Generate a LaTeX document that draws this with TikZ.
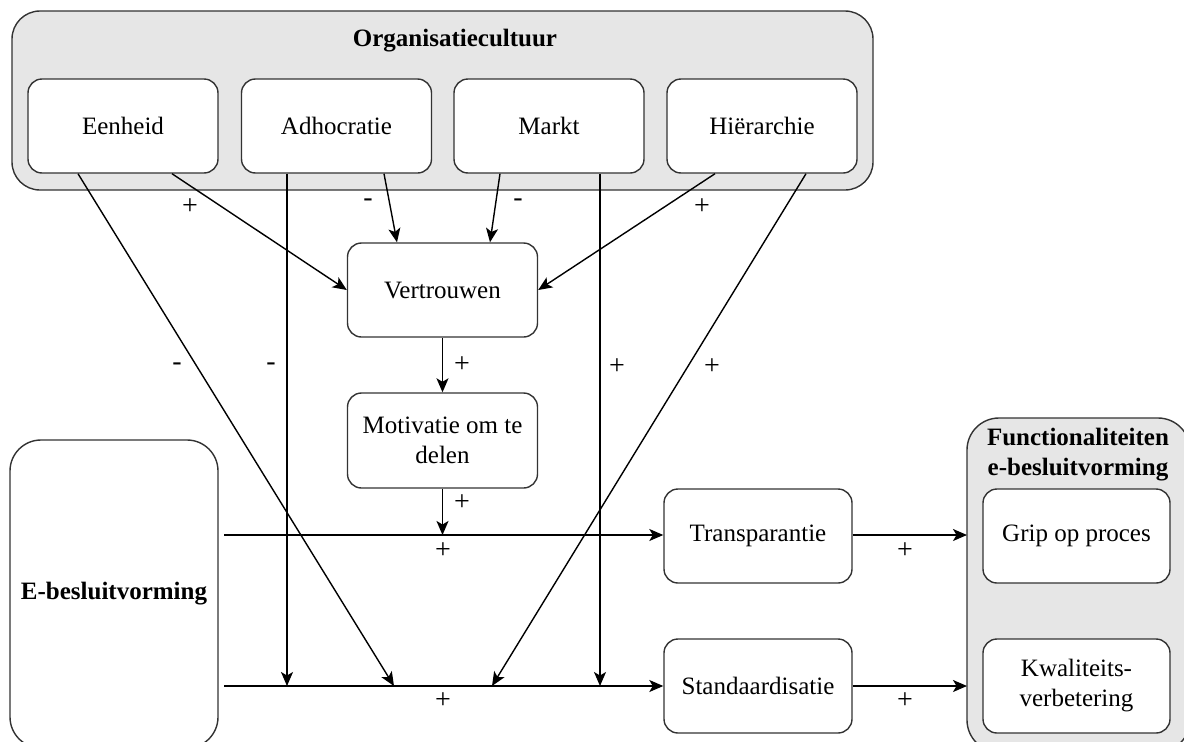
\documentclass[tikz,border=0pt]{standalone}
\usepackage{fontspec}
\setmainfont{Liberation Serif}
\usetikzlibrary{arrows.meta}
\definecolor{groupfill}{HTML}{E6E6E6}
\definecolor{edgecol}{HTML}{333333}

\begin{document}
\begin{tikzpicture}[x=1pt,y=-1pt,
  font=\fontsize{25}{30}\selectfont,
  group/.style={draw=edgecol, fill=groupfill, line width=1.4pt, inner sep=0pt},
  box/.style={draw=edgecol, fill=white, line width=1.4pt, rounded corners=14pt,
    minimum width=190pt, minimum height=94pt, align=center, inner sep=0pt},
  title/.style={font=\fontsize{25}{30}\selectfont\bfseries, align=center, inner sep=0pt},
  arr/.style={-{Stealth[length=14pt,width=12pt,inset=3.5pt]}, line width=1.4pt},
  sign/.style={inner sep=0pt, font=\fontsize{28}{30}\selectfont}
]
\useasboundingbox (0,0) rectangle (1184,742);

% group: organisational culture
\node[group, rounded corners=28pt, minimum width=861pt, minimum height=179pt] (org) at (442.5,100.5) {};
\node[title] (orgtitle) at (455,41) {Organisatiecultuur};
\node[box] (eenheid) at (123,126) {Eenheid};
\node[box] (adhocratie) at (336.5,126) {Adhocratie};
\node[box] (markt) at (549,126) {Markt};
\node[box] (hierarchie) at (762,126) {Hiërarchie};

% mediating chain
\node[box] (vertrouwen) at (442.5,290) {Vertrouwen};
\node[box, minimum height=95pt] (motivatie) at (442.5,440.5) {Motivatie om te\\delen};

% e-decision making
\node[box, rounded corners=31pt, minimum width=208pt, minimum height=308pt, font=\fontsize{25}{30}\selectfont\bfseries] (ebesluit) at (114,594) {E-besluitvorming};

\node[box, minimum width=188pt] (transparantie) at (758,536) {Transparantie};
\node[box, minimum width=188pt] (standaardisatie) at (758,686) {Standaardisatie};

% group: functionalities
\node[group, rounded corners=32pt, minimum width=223pt, minimum height=334pt] (func) at (1078.5,585) {};
\node[title] (functitle) at (1078,455) {Functionaliteiten\\e-besluitvorming};
\node[box, minimum width=187pt] (grip) at (1076.5,536) {Grip op proces};
\node[box, minimum width=187pt] (kwal) at (1076.5,686) {Kwaliteits-\\verbetering};

% free ends of the two main lines
\coordinate (tstart) at (224,535);
\coordinate (sstart) at (224,686);
\coordinate (tmot) at (442.5,535);
\coordinate (sadh) at (287,686);
\coordinate (seen) at (394,686);
\coordinate (shie) at (492,686);
\coordinate (smar) at (600,686);
\coordinate (gripin) at (967,535);
\coordinate (kwalin) at (967,686);

% culture -> trust
\draw[arr] ([xshift=49pt]eenheid.south) -- (vertrouwen.west);
\draw[arr] ([xshift=47.5pt]adhocratie.south) -- ([xshift=-45.5pt]vertrouwen.north);
\draw[arr] ([xshift=-49pt]markt.south) -- ([xshift=47.5pt]vertrouwen.north);
\draw[arr] ([xshift=-47pt]hierarchie.south) -- (vertrouwen.east);

% trust -> motivation -> transparency line
\draw[arr] (vertrouwen.south) -- (motivatie.north);
\draw[arr] (motivatie.south) -- (tmot);

% culture -> standardisation line
\draw[arr] ([xshift=-45pt]eenheid.south) -- (seen);
\draw[arr] ([xshift=-49.5pt]adhocratie.south) -- (sadh);
\draw[arr] ([xshift=51pt]markt.south) -- (smar);
\draw[arr] ([xshift=44pt]hierarchie.south) -- (shie);

% main lines
\draw[arr] (tstart) -- (transparantie.west |- tstart);
\draw[arr] (sstart) -- (standaardisatie.west);
\draw[arr] (transparantie.east |- gripin) -- (gripin);
\draw[arr] (standaardisatie.east) -- (kwalin);

% signs
\node[sign] (p1) at (190,207) {+};
\node[sign] (m1) at (368,203) {-};
\node[sign] (m2) at (518,203) {-};
\node[sign] (p2) at (702,207) {+};
\node[sign] (m3) at (177,367) {-};
\node[sign] (m4) at (271,367) {-};
\node[sign] (p3) at (462,365) {+};
\node[sign] (p4) at (617,367) {+};
\node[sign] (p5) at (712,367) {+};
\node[sign] (p6) at (462,503) {+};
\node[sign] (p7) at (443,551) {+};
\node[sign] (p8) at (443,701) {+};
\node[sign] (p9) at (905,551) {+};
\node[sign] (p10) at (905,701) {+};
\end{tikzpicture}
\end{document}
